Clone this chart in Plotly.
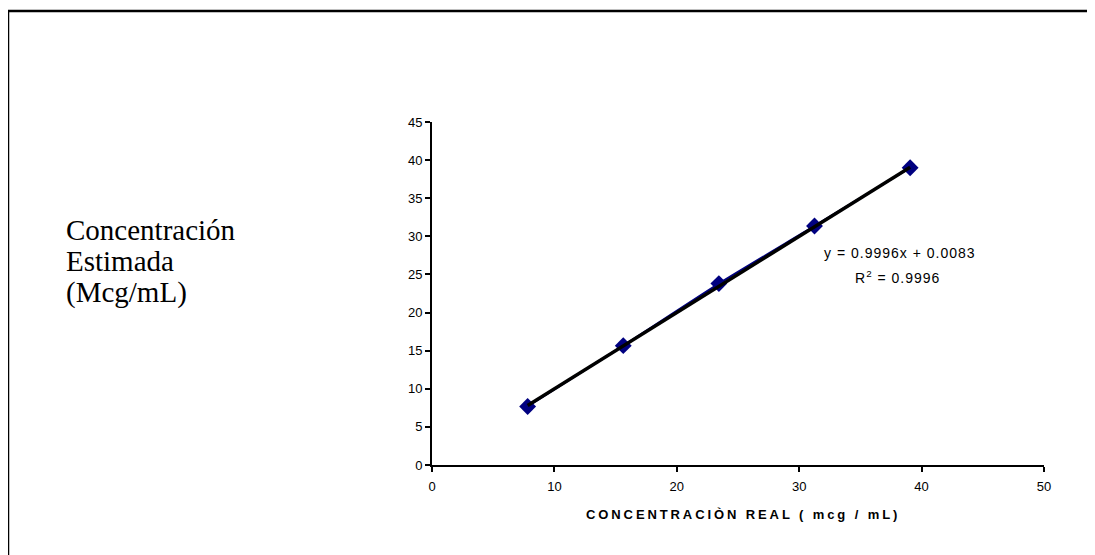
import plotly.graph_objects as go

# Data
x_real = [7.8125, 15.625, 23.4375, 31.25, 39.0625]
y_est = [7.68, 15.66, 23.8, 31.36, 39.0]
slope = 0.9996
intercept = 0.0083
eq_line1 = "y = 0.9996x + 0.0083"
eq_line2 = "R<sup>2</sup> = 0.9996"
y_label_lines = ["Concentración", "Estimada", "(Mcg/mL)"]
x_title = "CONCENTRACIÒN REAL ( mcg / mL)"
x_ticks = [0, 10, 20, 30, 40, 50]
y_ticks = [0, 5, 10, 15, 20, 25, 30, 35, 40, 45]

trend_x = [x_real[0], x_real[-1]]
trend_y = [slope * v + intercept for v in trend_x]

fig = go.Figure()
fig.add_trace(go.Scatter(
    x=x_real, y=y_est, mode="lines+markers",
    line=dict(color="#000080", width=2, shape="spline", smoothing=0.6),
    marker=dict(symbol="diamond", size=13, color="#000080"),
    showlegend=False, hoverinfo="x+y"))
fig.add_trace(go.Scatter(
    x=trend_x, y=trend_y, mode="lines",
    line=dict(color="black", width=3.5),
    showlegend=False))

OFF = 8  # page offset of the figure
W, H = 1095, 555
L, T = 432 - OFF, 122 - OFF
pw, ph = 612, 343
R, B = W - L - pw, H - T - ph

def px(x):
    return (x - OFF - L) / pw

def py(y):
    return (T + ph - (y - OFF)) / ph

sans = "Liberation Sans, Arial"
annotations = [
    dict(text='<span style="letter-spacing:1px">' + eq_line1 + '</span>',
         x=px(900), y=py(253), xref="paper", yref="paper",
         showarrow=False, xanchor="center", yanchor="middle",
         font=dict(size=14, family=sans)),
    dict(text='<span style="letter-spacing:1px">' + eq_line2 + '</span>',
         x=px(897), y=py(277), xref="paper", yref="paper",
         showarrow=False, xanchor="center", yanchor="middle",
         font=dict(size=14, family=sans)),
]
for i, t in enumerate(y_label_lines):
    annotations.append(dict(
        text=t, x=px(64), y=py(230 + 31 * i), xref="paper", yref="paper",
        xanchor="left", yanchor="middle", showarrow=False,
        font=dict(size=29, family="Liberation Serif, Times New Roman")))
annotations.append(dict(
    text='<b><span style="letter-spacing:2.9px">' + x_title + '</span></b>',
    x=px(743), y=py(514), xref="paper", yref="paper",
    xanchor="center", yanchor="middle", showarrow=False,
    font=dict(size=13, family=sans)))

fig.update_layout(
    width=W, height=H,
    margin=dict(l=L, r=R, t=T, b=B),
    paper_bgcolor="white", plot_bgcolor="white",
    font=dict(family=sans, size=12, color="black"),
    xaxis=dict(range=[0, 50], tickvals=x_ticks, showgrid=False, zeroline=False,
               showline=True, linecolor="black", linewidth=2,
               ticks="outside", ticklen=5, tickwidth=1.5, tickcolor="black",
               ticklabelstandoff=3, tickfont=dict(size=13)),
    yaxis=dict(range=[0, 45], tickvals=y_ticks, showgrid=False, zeroline=False,
               showline=True, linecolor="black", linewidth=2,
               ticks="outside", ticklen=5, tickwidth=1.5, tickcolor="black",
               tickfont=dict(size=13)),
    shapes=[dict(type="rect", xref="paper", yref="paper",
                 x0=px(8), x1=px(1120), y0=py(580), y1=py(11),
                 line=dict(color="black", width=2.5), fillcolor="rgba(0,0,0,0)",
                 layer="below")],
    annotations=annotations,
)

fig.write_html("out.html")
